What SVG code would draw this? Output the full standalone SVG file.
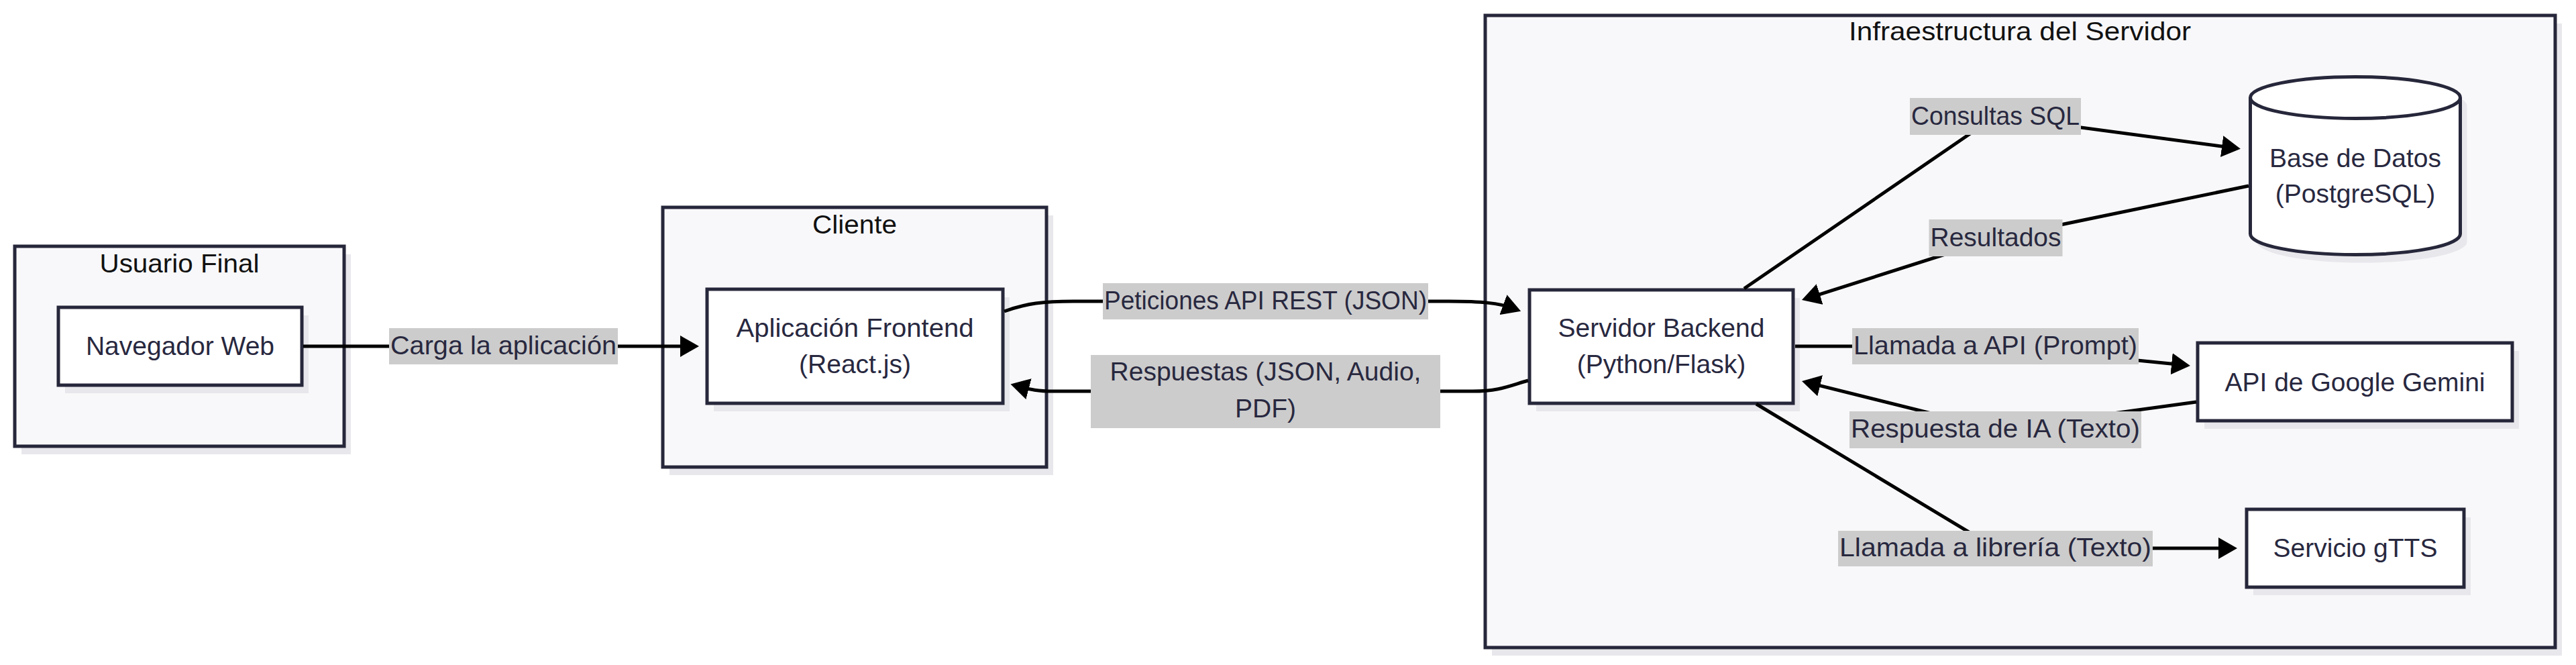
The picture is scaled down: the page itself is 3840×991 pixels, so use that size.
<svg xmlns="http://www.w3.org/2000/svg" width="3840" height="991" viewBox="0 0 3840 991">
<style>
.cluster{fill:#f8f8fa;stroke:#27273b;stroke-width:5}
.node{fill:#ffffff;stroke:#27273b;stroke-width:5}
.shadow{fill:#e8e8ec;stroke:none}
.t{font-family:"Liberation Sans",Arial,sans-serif;font-size:39px;fill:#28283f;text-anchor:middle}
.title{fill:#111111}
.edge{fill:none;stroke:#000000;stroke-width:5}
.lbl{fill:#cccccc}
</style>
<defs>
<marker id="arr" viewBox="0 0 28 32" refX="14" refY="16" markerWidth="28" markerHeight="32" markerUnits="userSpaceOnUse" orient="auto">
<path d="M0,0 L28,16 L0,32 z" fill="#000000"/>
</marker>
</defs>
<rect width="3840" height="991" fill="#ffffff"/>

<g id="cluster-usuario">
<rect class="shadow" x="32" y="379" width="491" height="298"/>
<rect class="cluster" x="22" y="367" width="491" height="298"/>
<text class="t title" x="267.5" y="406" textLength="238" lengthAdjust="spacingAndGlyphs">Usuario Final</text>
</g>
<g id="cluster-cliente">
<rect class="shadow" x="998" y="321" width="572" height="387"/>
<rect class="cluster" x="988" y="309" width="572" height="387"/>
<text class="t title" x="1274" y="348" textLength="126" lengthAdjust="spacingAndGlyphs">Cliente</text>
</g>
<g id="cluster-infra">
<rect class="shadow" x="2224" y="35" width="1595" height="942"/>
<rect class="cluster" x="2214" y="23" width="1595" height="942"/>
<text class="t title" x="3011" y="60" textLength="510" lengthAdjust="spacingAndGlyphs">Infraestructura del Servidor</text>
</g>

<g id="node-navegador">
<rect class="shadow" x="97" y="470" width="363" height="116"/>
<rect class="node" x="87" y="458" width="363" height="116"/>
<text class="t" x="268.5" y="529">Navegador Web</text>
</g>
<g id="node-frontend">
<rect class="shadow" x="1064" y="443" width="441" height="170"/>
<rect class="node" x="1054" y="431" width="441" height="170"/>
<text class="t" x="1274.5" y="502" textLength="354" lengthAdjust="spacingAndGlyphs">Aplicación Frontend</text>
<text class="t" x="1274.5" y="556">(React.js)</text>
</g>
<g id="node-backend">
<rect class="shadow" x="2290" y="444" width="393" height="169"/>
<rect class="node" x="2280" y="432" width="393" height="169"/>
<text class="t" x="2476.5" y="502">Servidor Backend</text>
<text class="t" x="2476.5" y="556">(Python/Flask)</text>
</g>
<g id="node-db">
<path class="shadow" transform="translate(10,12)" d="M3354.5,145.5 a156.5,31 0 0,0 313,0 a156.5,31 0 0,0 -313,0 l0,203 a156.5,31 0 0,0 313,0 l0,-203 z"/>
<path class="node" d="M3354.5,145.5 a156.5,31 0 0,0 313,0 a156.5,31 0 0,0 -313,0 l0,203 a156.5,31 0 0,0 313,0 l0,-203"/>
<text class="t" x="3511" y="249">Base de Datos</text>
<text class="t" x="3511" y="302">(PostgreSQL)</text>
</g>
<g id="node-gemini">
<rect class="shadow" x="3286" y="523" width="469" height="116"/>
<rect class="node" x="3276" y="511" width="469" height="116"/>
<text class="t" x="3510.5" y="583">API de Google Gemini</text>
</g>
<g id="node-gtts">
<rect class="shadow" x="3359" y="771" width="324" height="116"/>
<rect class="node" x="3349" y="759" width="324" height="116"/>
<text class="t" x="3511" y="830">Servicio gTTS</text>
</g>

<g id="connectors">
<path class="edge" marker-end="url(#arr)" d="M452,516 L1028,516"/>
<path class="edge" marker-end="url(#arr)" d="M1497,464 C1530,452 1555,449 1600,449 L2160,449 C2210,449 2235,452 2254,459"/>
<path class="edge" marker-end="url(#arr)" d="M2278,567 C2250,575 2235,583 2195,583 L1570,583 C1545,583 1535,580 1520,576"/>
<path class="edge" marker-end="url(#arr)" d="M2600,430 L2975,173 L3326,220"/>
<path class="edge" marker-end="url(#arr)" d="M3352,277 L2975,355 L2699.3,442.8"/>
<path class="edge" marker-end="url(#arr)" d="M2676,516 L2975,516 L3251,543.6"/>
<path class="edge" marker-end="url(#arr)" d="M3274,599 L2975,640 L2699.6,571.4"/>
<path class="edge" marker-end="url(#arr)" d="M2618,602 L2975,817 L3321,817"/>
</g>

<g id="edge-labels">
<rect class="lbl" x="580" y="489" width="341" height="54"/>
<text class="t" x="750.5" y="528" textLength="337" lengthAdjust="spacingAndGlyphs">Carga la aplicación</text>
<rect class="lbl" x="1644" y="422" width="485" height="54"/>
<text class="t" x="1886.5" y="461" textLength="481" lengthAdjust="spacingAndGlyphs">Peticiones API REST (JSON)</text>
<rect class="lbl" x="1626" y="529" width="521" height="109"/>
<text class="t" x="1886.5" y="567">Respuestas (JSON, Audio,</text>
<text class="t" x="1886.5" y="622">PDF)</text>
<rect class="lbl" x="2847" y="146" width="255" height="55"/>
<text class="t" x="2974.5" y="186" textLength="251" lengthAdjust="spacingAndGlyphs">Consultas SQL</text>
<rect class="lbl" x="2875.5" y="327" width="199" height="55"/>
<text class="t" x="2975" y="367" textLength="195" lengthAdjust="spacingAndGlyphs">Resultados</text>
<rect class="lbl" x="2761" y="489" width="427" height="54"/>
<text class="t" x="2974.5" y="528" textLength="423" lengthAdjust="spacingAndGlyphs">Llamada a API (Prompt)</text>
<rect class="lbl" x="2757" y="613" width="435" height="55"/>
<text class="t" x="2974.5" y="652" textLength="431" lengthAdjust="spacingAndGlyphs">Respuesta de IA (Texto)</text>
<rect class="lbl" x="2740" y="791" width="469" height="53"/>
<text class="t" x="2974.5" y="829" textLength="465" lengthAdjust="spacingAndGlyphs">Llamada a librería (Texto)</text>
</g>
</svg>
